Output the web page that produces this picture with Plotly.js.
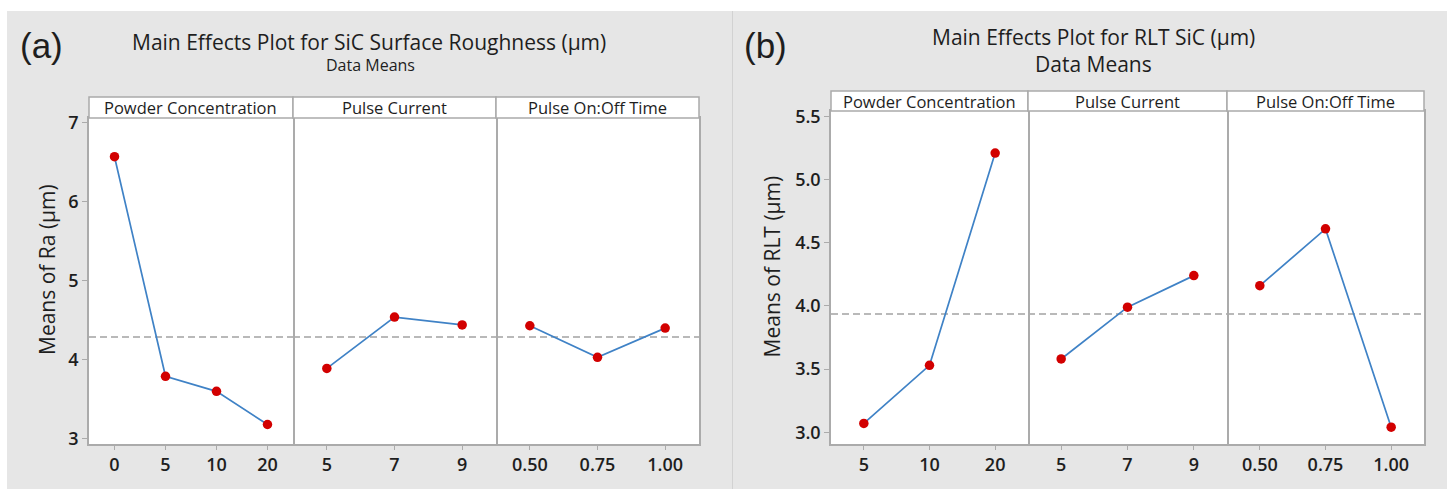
<!DOCTYPE html>
<html><head><meta charset="utf-8">
<script src="https://cdn.plot.ly/plotly-3.0.1.min.js"></script>
<style>html,body{margin:0;padding:0;background:#fff}#chart{width:1447px;height:489px}</style>
</head><body><div id="chart"></div>
<script>
// ---------- Data: chart (a) Surface roughness ----------
const raPowderLevels = ["0", "5", "10", "20"];
const raPowderMeans = [6.57, 3.79, 3.60, 3.18];
const raCurrentLevels = ["5", "7", "9"];
const raCurrentMeans = [3.89, 4.54, 4.44];
const raOnOffLevels = ["0.50", "0.75", "1.00"];
const raOnOffMeans = [4.43, 4.03, 4.40];
const raYTicks = [3, 4, 5, 6, 7];

// ---------- Data: chart (b) RLT ----------
const rltPowderLevels = ["5", "10", "20"];
const rltPowderMeans = [3.07, 3.53, 5.21];
const rltCurrentLevels = ["5", "7", "9"];
const rltCurrentMeans = [3.58, 3.99, 4.24];
const rltOnOffLevels = ["0.50", "0.75", "1.00"];
const rltOnOffMeans = [4.16, 4.61, 3.04];
const rltYTicks = [3.0, 3.5, 4.0, 4.5, 5.0, 5.5];

const factorNames = ["Powder Concentration", "Pulse Current", "Pulse On:Off Time"];
const titleA = "Main Effects Plot for SiC Surface Roughness (µm)";
const titleB = "Main Effects Plot for RLT SiC (µm)";
const subTitle = "Data Means";
const yTitleA = "Means of Ra (µm)";
const yTitleB = "Means of RLT (µm)";

// ---------- helpers ----------
const W = 1447, H = 489;
const px = x => x / W;
const py = y => 1 - y / H;
const mean = a => a.reduce((s, v) => s + v, 0) / a.length;

const FONT = "Open Sans, Noto Sans, sans-serif";
const TXT = "#1e1e1e";
const FRAME = "#ababab";
const LINE = "#3f82c6";
const MARK = "#d20000";

const charts = [
  {
    factors: [[raPowderLevels, raPowderMeans], [raCurrentLevels, raCurrentMeans], [raOnOffLevels, raOnOffMeans]],
    edges: [89, 293, 496, 699], top: 118, bottom: 444, stripTop: 97,
    yRange: [2.933, 7.06], yTicks: raYTicks, tickFmt: "d",
    xNums: [1, 2, 3], yNums: [1, 3, 4]
  },
  {
    factors: [[rltPowderLevels, rltPowderMeans], [rltCurrentLevels, rltCurrentMeans], [rltOnOffLevels, rltOnOffMeans]],
    edges: [831, 1028, 1227, 1424], top: 111, bottom: 444, stripTop: 91,
    yRange: [2.907, 5.543], yTicks: rltYTicks, tickFmt: ".1f",
    xNums: [4, 5, 6], yNums: [2, 5, 6]
  }
];

const axName = (p, n) => n === 1 ? p : p + n;
const axKey = (p, n) => n === 1 ? p + "axis" : p + "axis" + n;

const data = [];
const layout = {
  width: W, height: H,
  margin: {l: 0, r: 0, t: 0, b: 0, pad: 0},
  paper_bgcolor: "#e6e6e6",
  plot_bgcolor: "#ffffff",
  showlegend: false,
  font: {family: FONT, color: TXT},
  shapes: [
    {type: "rect", xref: "paper", yref: "paper", x0: 0, x1: 1, y0: py(11), y1: 1, fillcolor: "#ffffff", line: {width: 0}, layer: "below"},
    {type: "rect", xref: "paper", yref: "paper", x0: 0, x1: px(7), y0: 0, y1: 1, fillcolor: "#ffffff", line: {width: 0}, layer: "below"},
    {type: "line", xref: "paper", yref: "paper", x0: px(732.5), x1: px(732.5), y0: 0, y1: py(11), line: {color: "#d2d2d2", width: 1}, layer: "below"}
  ],
  annotations: []
};

const tickFont = {family: FONT, size: 18, color: TXT, weight: 600};

charts.forEach(c => {
  const grand = mean(c.factors.map(f => mean(f[1])));
  const mainY = axName("y", c.yNums[0]);
  c.factors.forEach((f, i) => {
    const xn = axName("x", c.xNums[i]);
    const yn = axName("y", c.yNums[i]);
    const isMain = i === 0;
    layout[axKey("y", c.yNums[i])] = Object.assign({
      domain: [py(c.bottom), py(c.top)],
      range: c.yRange, anchor: xn,
      showgrid: false, zeroline: false,
      showline: true, linecolor: FRAME, linewidth: 1.5,
      fixedrange: true
    }, isMain ? {
      mirror: true, tickvals: c.yTicks, tickformat: c.tickFmt,
      ticks: "outside", ticklen: 5, tickcolor: FRAME, tickwidth: 1,
      tickfont: tickFont
    } : {
      matches: mainY, side: "right", mirror: false,
      ticks: "", showticklabels: false
    });
    layout[axKey("x", c.xNums[i])] = {
      domain: [px(c.edges[i]), px(c.edges[i + 1])],
      type: "category", categoryorder: "array", categoryarray: f[0],
      range: [-0.5, f[0].length - 0.5], anchor: yn,
      showgrid: false, zeroline: false,
      showline: true, mirror: true, linecolor: FRAME, linewidth: 1.5,
      ticks: "outside", ticklen: 4, tickcolor: FRAME, tickwidth: 1,
      tickfont: tickFont,
      fixedrange: true
    };
    data.push({
      type: "scatter", mode: "lines+markers",
      x: f[0], y: f[1], xaxis: xn, yaxis: yn,
      line: {color: LINE, width: 1.7},
      marker: {color: MARK, size: 9.5},
      hoverinfo: "x+y"
    });
    // grand-mean reference line
    layout.shapes.push({
      type: "line", xref: xn + " domain", yref: yn,
      x0: 0, x1: 1, y0: grand, y1: grand,
      line: {color: "#b9b9b9", width: 2, dash: "7px,4px"}, layer: "below"
    });
    // strip header
    layout.shapes.push({
      type: "rect", xref: "paper", yref: "paper",
      x0: px(c.edges[i]), x1: px(c.edges[i + 1]), y0: py(c.top), y1: py(c.stripTop),
      fillcolor: "#ffffff", line: {color: FRAME, width: 1.5}, layer: "above"
    });
    layout.annotations.push({
      xref: "paper", yref: "paper",
      x: px((c.edges[i] + c.edges[i + 1]) / 2), y: py((c.top + c.stripTop) / 2),
      text: factorNames[i], showarrow: false, xanchor: "center", yanchor: "middle",
      font: {family: FONT, size: 16.5, color: TXT, weight: 500}
    });
  });
});

// titles and labels
const ann = (text, x, y, size, fam, angle) => layout.annotations.push({
  xref: "paper", yref: "paper", x: px(x), y: py(y), text: text, showarrow: false,
  xanchor: "center", yanchor: "middle", textangle: angle || 0, borderpad: 0,
  font: {family: fam || FONT, size: size, color: TXT}
});
ann("(a)", 41, 45, 35, "Liberation Sans, Arial, sans-serif");
ann(titleA, 368.5, 42, 21);
ann(subTitle, 370, 65.5, 16);
ann(yTitleA, 47, 270, 21, null, -90);
ann("(b)", 765.7, 45, 35, "Liberation Sans, Arial, sans-serif");
ann(titleB, 1093.7, 37, 21);
ann(subTitle, 1093, 63.5, 21);
ann(yTitleB, 771.7, 266.7, 21, null, -90);

Plotly.newPlot("chart", data, layout, {displayModeBar: false, responsive: false});
</script>
</body></html>
